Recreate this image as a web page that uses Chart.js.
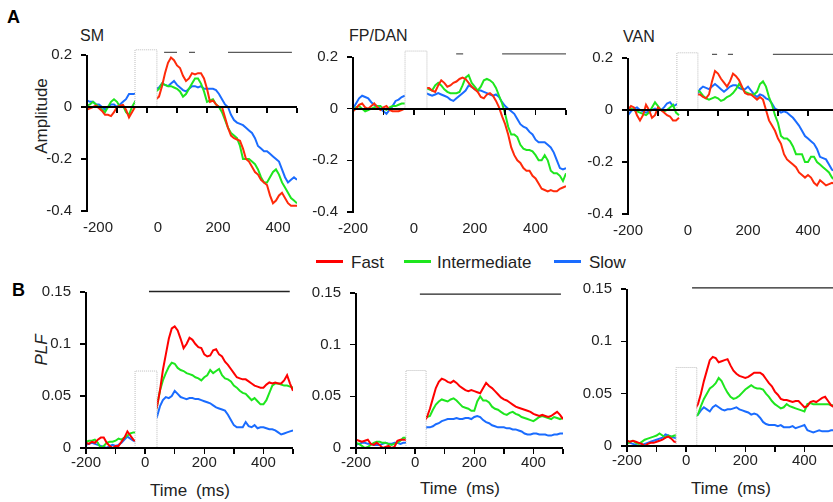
<!DOCTYPE html>
<html><head><meta charset="utf-8">
<script src="https://cdn.jsdelivr.net/npm/chart.js@4/dist/chart.umd.min.js"></script>
<style>
html,body{margin:0;padding:0;width:833px;height:502px;overflow:hidden;background:#fff;font-family:"Liberation Sans",Arial,sans-serif;color:#222}
canvas{position:absolute}
.t{position:absolute;white-space:nowrap;line-height:1}
.c{transform:translate(-50%,-50%)}
.r{transform:translate(-50%,-50%) rotate(-90deg)}
.lg{position:absolute;height:2.5px;width:27px}
.ax{position:absolute;background:#000;pointer-events:none}
</style></head><body>
<div class="t" style="left:7px;top:8px;font-size:18px;font-weight:bold;color:#000">A</div>
<div class="t" style="left:12px;top:281px;font-size:18px;font-weight:bold;color:#000">B</div>
<div class="t" style="left:80px;top:28px;font-size:16px">SM</div>
<div class="t" style="left:349px;top:28px;font-size:16px">FP/DAN</div>
<div class="t" style="left:623px;top:29px;font-size:16px">VAN</div>
<div class="t r" style="left:41px;top:116px;font-size:17px">Amplitude</div>
<div class="t r" style="left:41px;top:350px;font-size:17px;font-style:italic">PLF</div>
<div class="t c" style="left:190px;top:490px;font-size:17px;word-spacing:4px">Time (ms)</div>
<div class="t c" style="left:460px;top:488px;font-size:17px;word-spacing:4px">Time (ms)</div>
<div class="t c" style="left:731px;top:488px;font-size:17px;word-spacing:4px">Time (ms)</div>
<div class="lg" style="left:316px;top:260px;background:#ff0000"></div>
<div class="t" style="left:351px;top:254px;font-size:17px">Fast</div>
<div class="lg" style="left:404px;top:260px;background:#1ee61e"></div>
<div class="t" style="left:437px;top:254px;font-size:17px">Intermediate</div>
<div class="lg" style="left:554px;top:260px;background:#1a6cff"></div>
<div class="t" style="left:589px;top:254px;font-size:17px">Slow</div>
<canvas id="cA1"></canvas><canvas id="cA2"></canvas><canvas id="cA3"></canvas>
<canvas id="cB1"></canvas><canvas id="cB2"></canvas><canvas id="cB3"></canvas>
<script>
// ---- time axis (ms) ----
const timeMs = [-200,-190,-180,-170,-160,-150,-140,-130,-120,-110,-100,-90,-80,-70,-60,-50,-40,-30,-20,-10,0,10,20,30,40,50,60,70,80,90,100,110,120,130,140,150,160,170,180,190,200,210,220,230,240,250,260,270,280,290,300,310,320,330,340,350,360,370,380,390,400,410,420,430,440,450,460,470,480,490,500];
const timeTicks = [-200,-100,0,100,200,300,400,500];
const seriesNames = ['Fast','Intermediate','Slow'];
const ampTicks = [-0.4,-0.2,0,0.2];
const plfTicks = [0,0.05,0.1,0.15];

// ---- A: Amplitude ----
const ampSMFast = [-0.01,-0.005,0.0,0.005,-0.005,-0.015,-0.03,-0.03,-0.035,-0.02,0.0,0.005,0.008,-0.01,-0.04,-0.02,0.0,0.01,null,null,null,null,null,
 0.03,0.04,0.08,0.13,0.17,0.19,0.18,0.16,0.15,0.12, 0.10,0.11,0.13,0.125,0.13,0.13,0.11,0.07,0.02,0.025, 0.01,0.0,0.0,-0.04,-0.08,-0.11,-0.12,-0.125,-0.13,-0.16, -0.2,-0.21,-0.23,-0.25,-0.26,-0.28,-0.29,-0.30,-0.34,-0.37, -0.36,-0.34,-0.33,-0.35,-0.37,-0.38,-0.38,-0.38];
const ampSMInter = [0.005,0.01,0.02,0.01,0.0,-0.01,-0.02,0.0,0.02,0.03,0.02,0.0,0.005,-0.02,-0.03,0.0,0.02,0.04,null,null,null,null,null,
 0.06,0.07,0.09,0.085,0.08,0.08,0.075,0.07,0.06,0.04, 0.05,0.07,0.09,0.11,0.11,0.09,0.06,0.02,0.025,0.03, 0.01,0.0,-0.02,-0.05,-0.08,-0.1,-0.11,-0.12,-0.15,-0.2, -0.2,-0.2,-0.21,-0.22,-0.24,-0.27,-0.29,-0.29,-0.27,-0.25, -0.24,-0.26,-0.29,-0.31,-0.33,-0.35,-0.36,-0.37];
const ampSMSlow = [0.025,0.02,0.02,0.01,0.01,0.0,-0.01,0.0,0.01,0.01,0.0,0.01,0.02,0.03,0.05,0.05,0.05,0.06,null,null,null,null,null,
 0.07,0.075,0.09,0.085,0.08,0.09,0.1,0.085,0.075,0.065, 0.06,0.07,0.08,0.08,0.075,0.08,0.07,0.07,0.07,0.07, 0.065,0.05,0.03,0.01,0.0,-0.03,-0.05,-0.06,-0.065,-0.07, -0.08,-0.09,-0.1,-0.12,-0.15,-0.16,-0.17,-0.17,-0.18,-0.19, -0.2,-0.21,-0.24,-0.27,-0.29,-0.28,-0.27,-0.28];

const ampDANFast = [-0.01,0.0,0.015,0.02,0.005,0.0,0.01,0.02,0.005,-0.005,0.005,0.01,-0.005,-0.01,-0.01,-0.01,-0.005,0.0,null,null,null,null,null,
 0.07,0.08,0.08,0.07,0.065,0.09,0.11,0.1,0.085,0.09, 0.1,0.105,0.115,0.12,0.115,0.1,0.085,0.075,0.065,0.045, 0.04,0.055,0.06,0.05,0.03,0.005,-0.03,-0.06,-0.1,-0.15, -0.18,-0.2,-0.21,-0.23,-0.24,-0.24,-0.26,-0.27,-0.29,-0.31, -0.315,-0.32,-0.315,-0.32,-0.32,-0.31,-0.305,-0.3];
const ampDANInter = [-0.01,0.005,0.01,0.0,-0.01,-0.005,0.0,0.005,0.01,0.01,0.0,-0.005,0.005,0.01,0.01,0.015,0.02,0.02,null,null,null,null,null,
 0.08,0.08,0.075,0.07,0.09,0.1,0.09,0.075,0.065,0.06, 0.06,0.06,0.065,0.09,0.12,0.13,0.1,0.085,0.07,0.085, 0.11,0.115,0.11,0.1,0.08,0.05,0.02,-0.02,-0.07,-0.1, -0.1,-0.11,-0.14,-0.155,-0.16,-0.16,-0.165,-0.18,-0.2,-0.2, -0.18,-0.2,-0.24,-0.25,-0.25,-0.26,-0.28,-0.25];
const ampDANSlow = [0.0,0.02,0.04,0.05,0.045,0.04,0.025,0.015,0.01,0.0,-0.01,-0.02,-0.005,0.01,0.03,0.035,0.045,0.05,null,null,null,null,null,
 0.06,0.06,0.055,0.05,0.055,0.06,0.055,0.05,0.045,0.035, 0.03,0.04,0.05,0.06,0.07,0.09,0.085,0.075,0.07,0.07, 0.065,0.06,0.055,0.05,0.055,0.045,0.025,0.01,0.0,-0.01, -0.02,-0.04,-0.06,-0.07,-0.075,-0.09,-0.1,-0.12,-0.13,-0.13, -0.13,-0.14,-0.15,-0.17,-0.2,-0.23,-0.235,-0.23];

const ampVANFast = [0.0,0.015,0.01,-0.02,-0.04,-0.02,0.02,0.0,-0.03,-0.02,0.01,0.0,-0.01,-0.02,-0.025,-0.04,-0.04,-0.03,null,null,null,null,null,
 0.06,0.06,0.05,0.045,0.06,0.11,0.15,0.14,0.12,0.105, 0.09,0.11,0.14,0.13,0.115,0.09,0.065,0.06,0.06,0.05, 0.04,0.05,0.04,0.0,-0.04,-0.06,-0.08,-0.11,-0.13,-0.17, -0.19,-0.2,-0.21,-0.22,-0.24,-0.25,-0.26,-0.25,-0.26,-0.28, -0.29,-0.27,-0.28,-0.29,-0.285,-0.28,-0.285,-0.29];
const ampVANInter = [0.01,0.005,0.0,-0.005,-0.01,-0.015,-0.02,-0.01,0.01,0.03,0.015,0.0,-0.005,0.0,0.01,0.02,-0.01,-0.02,null,null,null,null,null,
 0.075,0.07,0.055,0.045,0.04,0.045,0.05,0.045,0.035,0.04, 0.05,0.055,0.065,0.08,0.1,0.085,0.07,0.065,0.06,0.06, 0.07,0.1,0.11,0.09,0.05,0.02,-0.02,-0.05,-0.1,-0.11, -0.11,-0.12,-0.14,-0.17,-0.17,-0.17,-0.2,-0.2,-0.18,-0.18, -0.2,-0.21,-0.22,-0.23,-0.24,-0.26,-0.27,-0.28];
const ampVANSlow = [-0.02,-0.005,0.005,0.01,0.0,-0.005,-0.01,-0.005,0.0,0.005,0.0,0.0,0.01,0.025,0.03,0.015,0.02,0.03,null,null,null,null,null,
 0.06,0.08,0.09,0.085,0.08,0.09,0.1,0.09,0.08,0.07, 0.08,0.09,0.095,0.095,0.085,0.08,0.08,0.09,0.075,0.06, 0.05,0.06,0.055,0.045,0.04,0.025,0.005,0.0,-0.01,-0.005, -0.01,-0.02,-0.03,-0.045,-0.06,-0.08,-0.1,-0.11,-0.12,-0.13, -0.15,-0.18,-0.185,-0.19,-0.21,-0.23,-0.235,-0.24];

// ---- B: PLF ----
const plfSMFast = [0.005,0.004,0.006,0.005,0.008,0.01,0.01,0.005,0.002,0.0,0.002,0.002,0.006,0.01,0.016,0.012,0.008,0.006,null,null,null,null,null,
 0.03,0.04,0.055,0.075,0.09,0.105,0.115,0.117,0.113,0.105, 0.096,0.1,0.106,0.104,0.1,0.097,0.096,0.09,0.088,0.089, 0.094,0.095,0.09,0.088,0.083,0.08,0.076,0.072,0.068,0.067, 0.066,0.066,0.064,0.062,0.06,0.059,0.058,0.058,0.061,0.063, 0.062,0.063,0.062,0.062,0.065,0.07,0.062,0.055];
const plfSMInter = [0.006,0.007,0.007,0.008,0.005,0.0,0.002,0.005,0.006,0.006,0.007,0.009,0.008,0.01,0.012,0.014,0.015,0.015,null,null,null,null,null,
 0.03,0.04,0.055,0.065,0.072,0.078,0.082,0.081,0.077,0.075, 0.074,0.072,0.071,0.07,0.068,0.067,0.065,0.068,0.07,0.075, 0.072,0.074,0.076,0.07,0.067,0.066,0.064,0.06,0.058,0.055, 0.053,0.052,0.049,0.046,0.048,0.045,0.042,0.042,0.046,0.053, 0.06,0.062,0.062,0.061,0.06,0.06,0.059,0.058];
const plfSMSlow = [0.003,0.004,0.005,0.004,0.003,0.002,0.001,0.0,0.002,0.003,0.002,0.003,0.005,0.008,0.011,0.009,0.007,0.006,null,null,null,null,null,
 0.025,0.03,0.04,0.046,0.049,0.048,0.05,0.055,0.052,0.049, 0.048,0.047,0.048,0.048,0.047,0.047,0.046,0.045,0.044,0.043, 0.041,0.039,0.038,0.037,0.036,0.032,0.027,0.022,0.02,0.02, 0.02,0.025,0.021,0.02,0.022,0.019,0.02,0.02,0.019,0.018, 0.018,0.017,0.015,0.013,0.014,0.015,0.016,0.017];

const plfDANFast = [0.008,0.007,0.006,0.007,0.008,0.004,0.003,0.005,0.003,0.0,0.001,0.002,0.0,0.001,0.007,0.008,0.008,0.008,null,null,null,null,null,
 0.025,0.03,0.038,0.048,0.058,0.064,0.067,0.066,0.064,0.063, 0.065,0.063,0.06,0.058,0.056,0.055,0.056,0.055,0.054,0.053, 0.058,0.063,0.06,0.058,0.055,0.052,0.049,0.047,0.046,0.044, 0.042,0.04,0.039,0.038,0.037,0.036,0.035,0.033,0.032,0.031, 0.032,0.031,0.03,0.031,0.033,0.035,0.032,0.028];
const plfDANInter = [0.005,0.004,0.002,0.0,0.001,0.003,0.005,0.006,0.006,0.005,0.005,0.004,0.003,0.004,0.005,0.007,0.01,0.01,null,null,null,null,null,
 0.028,0.03,0.031,0.037,0.042,0.045,0.047,0.046,0.045,0.047, 0.048,0.046,0.043,0.04,0.039,0.038,0.036,0.036,0.045,0.05, 0.046,0.046,0.044,0.04,0.038,0.037,0.035,0.033,0.032,0.034, 0.035,0.033,0.032,0.03,0.029,0.028,0.027,0.026,0.028,0.03, 0.031,0.03,0.029,0.028,0.03,0.029,0.028,0.029];
const plfDANSlow = [0.003,0.004,0.005,0.005,0.004,0.004,0.003,0.003,0.003,0.004,0.005,0.004,0.004,0.005,0.005,0.004,0.005,0.005,null,null,null,null,null,
 0.019,0.02,0.02,0.021,0.023,0.024,0.026,0.027,0.028,0.028, 0.028,0.029,0.028,0.028,0.029,0.029,0.028,0.03,0.031,0.03, 0.027,0.025,0.024,0.022,0.021,0.02,0.02,0.02,0.019,0.019, 0.018,0.018,0.017,0.016,0.014,0.013,0.013,0.014,0.014,0.013, 0.013,0.013,0.012,0.012,0.013,0.013,0.014,0.014];

const plfVANFast = [0.005,0.004,0.005,0.004,0.003,0.002,0.0,0.002,0.003,0.003,0.004,0.005,0.006,0.008,0.009,0.007,0.004,0.004,null,null,null,null,null,
 0.035,0.04,0.05,0.062,0.072,0.082,0.085,0.084,0.08,0.081, 0.082,0.083,0.077,0.072,0.069,0.067,0.066,0.065,0.066,0.068, 0.07,0.07,0.07,0.068,0.064,0.06,0.057,0.052,0.049,0.045, 0.044,0.044,0.043,0.042,0.043,0.043,0.04,0.037,0.038,0.042, 0.043,0.042,0.044,0.046,0.047,0.043,0.039,0.037];
const plfVANInter = [0.002,0.004,0.005,0.003,0.002,0.004,0.006,0.007,0.008,0.009,0.01,0.012,0.01,0.008,0.01,0.009,0.01,0.01,null,null,null,null,null,
 0.028,0.03,0.038,0.045,0.05,0.055,0.057,0.06,0.065,0.062, 0.056,0.051,0.047,0.045,0.046,0.048,0.051,0.054,0.056,0.058, 0.056,0.055,0.055,0.054,0.05,0.047,0.043,0.04,0.038,0.036, 0.037,0.04,0.038,0.037,0.036,0.035,0.034,0.033,0.04,0.041, 0.04,0.04,0.04,0.04,0.04,0.04,0.039,0.039];
const plfVANSlow = [0.003,0.003,0.002,0.001,0.0,0.001,0.002,0.003,0.004,0.005,0.006,0.007,0.008,0.011,0.01,0.009,0.008,0.008,null,null,null,null,null,
 0.028,0.03,0.034,0.037,0.035,0.033,0.037,0.039,0.037,0.035, 0.034,0.035,0.035,0.036,0.037,0.035,0.034,0.033,0.032,0.03, 0.031,0.03,0.027,0.023,0.021,0.02,0.02,0.02,0.019,0.02, 0.018,0.018,0.018,0.019,0.017,0.018,0.019,0.02,0.015,0.014, 0.013,0.014,0.015,0.014,0.014,0.014,0.015,0.015];

// ---- significance bars: [start ms, end ms], and their level ----
const sigAmpSM = [[57,100],[140,160],[270,483]];
const sigAmpDAN = [[139,162],[290,500]];
const sigAmpVAN = [[80,97],[133,150],[283,500]];
const sigPlfSM = [[13,489]];
const sigPlfDAN = [[16,493]];
const sigPlfVAN = [[20,500]];
const sigLevelAmp = [0.21, 0.212, 0.214];
const sigLevelPlf = [0.1505, 0.149, 0.151];
// ---- stimulus windows: [start ms, end ms, top value] ----
const stimAmp = [[-40,33,0.22],[-29,43,0.223],[-37,33,0.22]];
const stimPlf = [[-34,40,0.074],[-31,37,0.075],[-34,36,0.075]];

// ---------------------------------------------------------
Chart.defaults.font.family = '"Liberation Sans", Arial, sans-serif';
Chart.defaults.font.size = 15;
Chart.defaults.color = '#222';

const colA = ['#ff2a0a','#1ee61e','#1a6cff'];
const colB = ['#ff0000','#1ee61e','#1a6cff'];

const panelLayout = [
  {id:'cA1', L:87, R:297, T:55, B:211, lo:11},
  {id:'cA2', L:353, R:566, T:57, B:212, lo:0},
  {id:'cA3', L:628, R:838, T:58, B:214, lo:0},
  {id:'cB1', L:86, R:293, T:292, B:448, lo:0},
  {id:'cB2', L:356, R:563, T:293, B:448, lo:0},
  {id:'cB3', L:627, R:834, T:289, B:446, lo:0}
];
const panelData = [
  {kind:'A', s:[ampSMFast,ampSMInter,ampSMSlow], sig:sigAmpSM, sigY:sigLevelAmp[0], box:stimAmp[0]},
  {kind:'A', s:[ampDANFast,ampDANInter,ampDANSlow], sig:sigAmpDAN, sigY:sigLevelAmp[1], box:stimAmp[1]},
  {kind:'A', s:[ampVANFast,ampVANInter,ampVANSlow], sig:sigAmpVAN, sigY:sigLevelAmp[2], box:stimAmp[2]},
  {kind:'B', s:[plfSMFast,plfSMInter,plfSMSlow], sig:sigPlfSM, sigY:sigLevelPlf[0], box:stimPlf[0]},
  {kind:'B', s:[plfDANFast,plfDANInter,plfDANSlow], sig:sigPlfDAN, sigY:sigLevelPlf[1], box:stimPlf[1]},
  {kind:'B', s:[plfVANFast,plfVANInter,plfVANSlow], sig:sigPlfVAN, sigY:sigLevelPlf[2], box:stimPlf[2]}
];

const PADL = 70, PADT = 30, PADR = 10, XH = 40;
const xLabel = v => (v % 200 === 0 ? String(v) : '');
const yLabel = v => String(Math.round(v * 100) / 100);

// axis line / tick mark overlay, positioned from the chart's own scales
function addRule(x, y, w, h) {
  const d = document.createElement('div');
  d.className = 'ax';
  d.style.left = x + 'px'; d.style.top = y + 'px';
  d.style.width = w + 'px'; d.style.height = h + 'px';
  document.body.appendChild(d);
}
function drawAxes(chart, ox, oy, yTicks) {
  const xs = chart.scales.x, ys = chart.scales.y;
  const xL = Math.round(ox + xs.getPixelForValue(xs.min));
  const xR = Math.round(ox + xs.getPixelForValue(xs.max));
  const yT = Math.round(oy + ys.getPixelForValue(ys.max));
  const yB = Math.round(oy + ys.getPixelForValue(ys.min));
  const y0 = Math.round(oy + ys.getPixelForValue(0));
  addRule(xL - 1, yT, 2, yB - yT + 1);          // y axis
  addRule(xL - 1, y0 - 1, xR - xL + 1, 2);      // zero / time axis
  yTicks.forEach(v => { const p = oy + ys.getPixelForValue(v); addRule(xL - 6, p - 0.75, 5, 1.5); });
  timeTicks.forEach(t => { const p = ox + xs.getPixelForValue(t); addRule(p - 0.75, y0 + 1, 1.5, 5); });
}

panelLayout.forEach((lay, k) => {
  const pd = panelData[k];
  const isA = pd.kind === 'A';
  const yMin = isA ? -0.4 : 0, yMax = isA ? 0.2 : 0.15;
  const xMin = -200, xMax = 500;
  const yTicks = isA ? ampTicks : plfTicks;
  const cv = document.getElementById(lay.id);
  const w = lay.R - lay.L + PADL + PADR, h = lay.B - lay.T + PADT + XH;
  const ox = lay.L - PADL, oy = lay.T - PADT;
  cv.width = w; cv.height = h;
  cv.style.left = ox + 'px'; cv.style.top = oy + 'px';
  cv.style.width = w + 'px'; cv.style.height = h + 'px';
  const cols = isA ? colA : colB;
  const datasets = [];
  const [b0, b1, bt] = pd.box;
  datasets.push({label:'stim', data:[{x:b0,y:0},{x:b0,y:bt},{x:b1,y:bt},{x:b1,y:0}],
    borderColor:'#bdbdbd', borderWidth:1, borderDash:[1,1], backgroundColor:'#ffffff', fill:'origin', clip:false, order:0, tension:0});
  const sigPts = [];
  pd.sig.forEach(([a,b]) => { sigPts.push({x:a,y:pd.sigY},{x:b,y:pd.sigY},{x:b,y:null}); });
  datasets.push({label:'sig', data:sigPts, borderColor: isA ? '#5a5a5a' : '#222', borderWidth:1.3, fill:false, clip:false, order:0, spanGaps:false});
  pd.s.forEach((arr, i) => {
    datasets.push({label:seriesNames[i], data:timeMs.map((t,j)=>({x:t,y:arr[j]})), borderColor:cols[i],
      borderWidth:2, fill:false, order:1+i, spanGaps:false, tension:0});
  });
  const scales = {
    x: {type:'linear', min:xMin, max:xMax, position:'bottom',
      ticks:{stepSize:100, autoSkip:false, maxRotation:0, padding: isA ? 8 : 6, labelOffset:lay.lo, callback:xLabel, color:'#222'},
      grid:{display:false, drawTicks:false}, border:{display:false},
      afterFit: s => { s.height = XH; }},
    y: {type:'linear', min:yMin, max:yMax,
      afterBuildTicks: s => { s.ticks = yTicks.map(v => ({value:v})); },
      ticks:{padding:15, color:'#222', callback:yLabel},
      grid:{display:false, drawTicks:false}, border:{display:false},
      afterFit: s => { s.width = PADL; }}
  };
  const chart = new Chart(cv, {
    type:'line',
    data:{datasets},
    options:{
      responsive:false, animation:false, devicePixelRatio:1,
      layout:{padding:{left:0, top:PADT, right:PADR, bottom:0}},
      plugins:{legend:{display:false}, tooltip:{enabled:false}},
      elements:{point:{radius:0, hoverRadius:0}},
      scales
    }
  });
  drawAxes(chart, ox, oy, yTicks);
});
</script>
</body></html>
